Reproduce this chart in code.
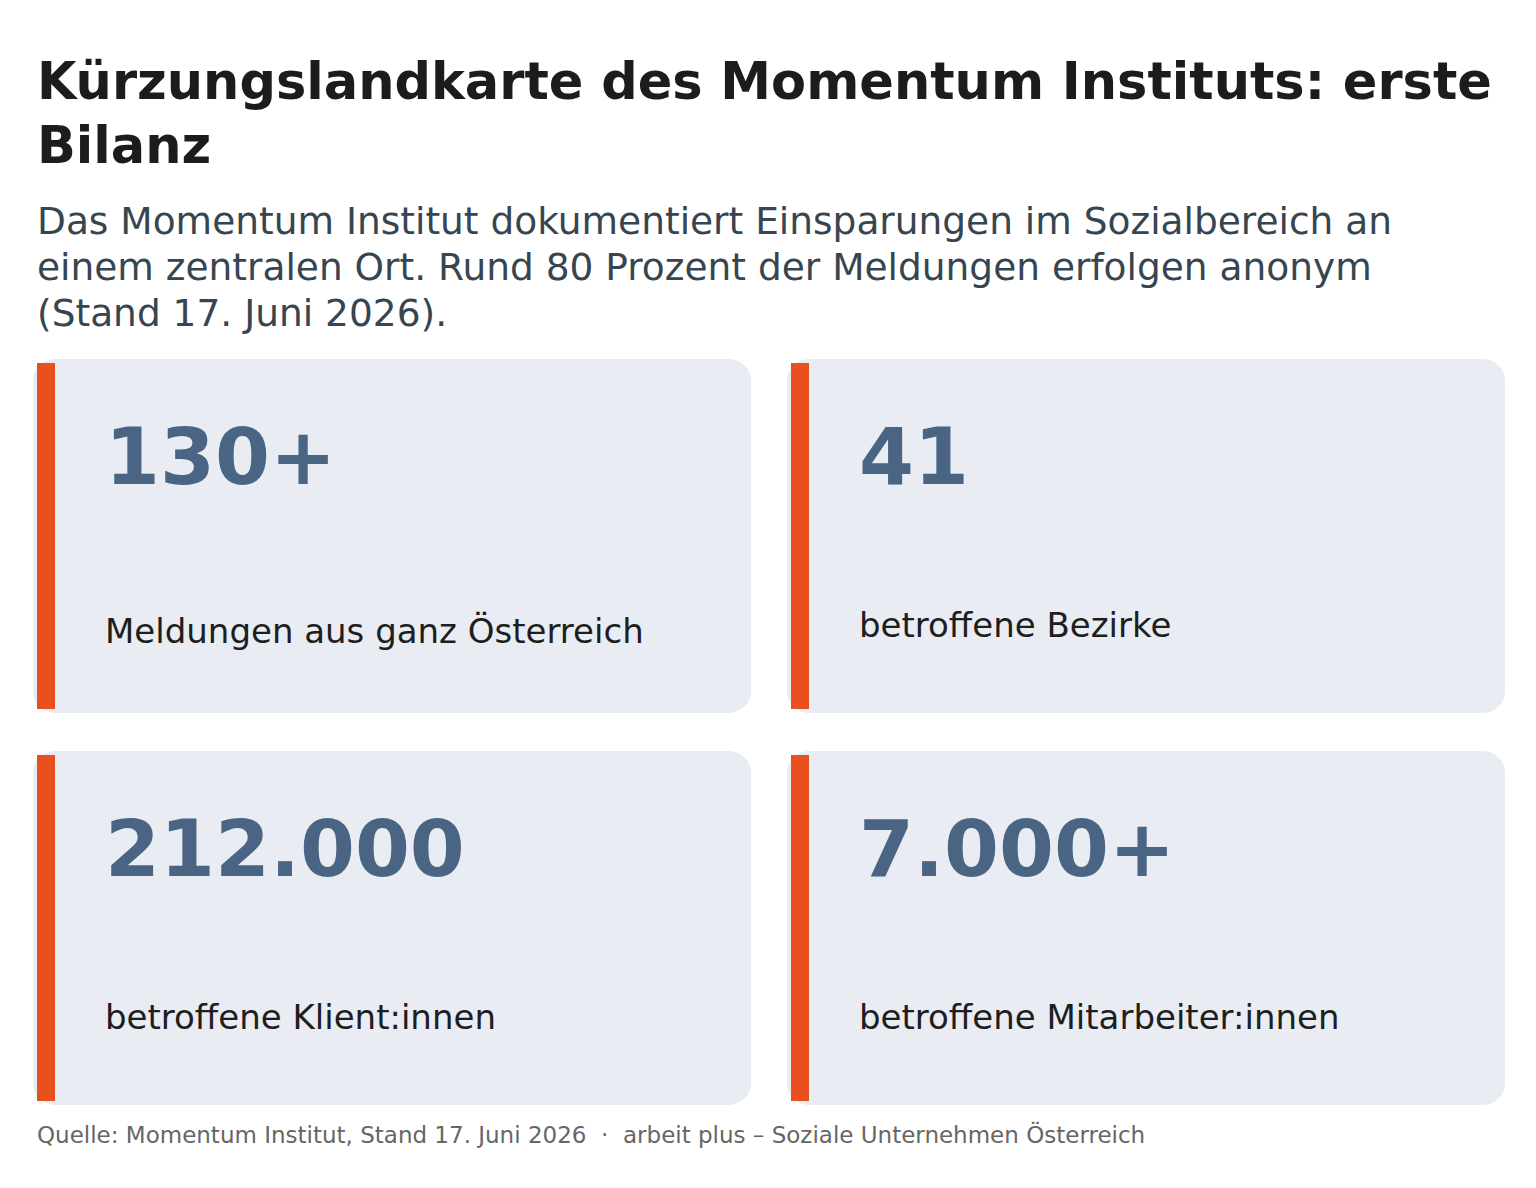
<!DOCTYPE html>
<html lang="de">
<head>
<meta charset="utf-8">
<title>Kürzungslandkarte des Momentum Instituts: erste Bilanz</title>
<script src="https://cdn.jsdelivr.net/npm/chart.js@4/dist/chart.umd.min.js"></script>
<style>
  html, body { margin: 0; padding: 0; background: #fff; }
  body { width: 1536px; height: 1188px; position: relative; overflow: hidden;
         font-family: "DejaVu Sans", sans-serif; }
  .title { position: absolute; left: 37px; top: 49.5px; font-size: 51px; font-weight: bold;
           line-height: 64px; color: #1c1c1c; white-space: nowrap; }
  .subtitle { position: absolute; left: 37px; top: 198px; font-size: 37.5px; line-height: 46px;
              color: #36454f; white-space: nowrap; }
  .card { position: absolute; width: 718px; height: 354px; background: #e9ecf2;
          border-radius: 22px; }
  .accent { position: absolute; left: 4px; top: 4px; width: 18px; bottom: 4px; background: #e8501e; }
  .value { position: absolute; left: 72px; font-size: 79px; font-weight: bold;
           line-height: 1; color: #4a6583; white-space: nowrap; }
  .label { position: absolute; left: 72px; font-size: 34px; line-height: 1;
           color: #1e1e1e; white-space: nowrap; }
  .source { position: absolute; left: 37px; top: 1123.5px; font-size: 23px; line-height: 1;
            color: #666; white-space: nowrap; }
</style>
</head>
<body>
<div class="title">Kürzungslandkarte des Momentum Instituts: erste<br>Bilanz</div>
<div class="subtitle">Das Momentum Institut dokumentiert Einsparungen im Sozialbereich an<br>einem zentralen Ort. Rund 80 Prozent der Meldungen erfolgen anonym<br>(Stand 17. Juni 2026).</div>
<div id="cards"></div>
<div class="source">Quelle: Momentum Institut, Stand 17. Juni 2026 &nbsp;·&nbsp; arbeit plus – Soziale Unternehmen Österreich</div>
<script>
const kpiValues = ['130+', '41', '212.000', '7.000+'];
const kpiLabels = ['Meldungen aus ganz Österreich', 'betroffene Bezirke', 'betroffene Klient:innen', 'betroffene Mitarbeiter:innen'];

// labels are aligned on the top of their ink, like the original
const meas = document.createElement('canvas').getContext('2d');
meas.font = '34px "DejaVu Sans"';

const wrap = document.getElementById('cards');
kpiValues.forEach((v, i) => {
  const col = i % 2, row = Math.floor(i / 2);
  const card = document.createElement('div');
  card.className = 'card';
  card.style.left = (33 + col * 754) + 'px';
  card.style.top = (359 + row * 392) + 'px';
  card.innerHTML = '<div class="accent"></div><div class="value"></div><div class="label"></div>';
  const val = card.querySelector('.value');
  val.textContent = v;
  val.style.top = (126 - 0.846 * 79) + 'px';
  const lab = card.querySelector('.label');
  lab.textContent = kpiLabels[i];
  const asc = meas.measureText(kpiLabels[i]).actualBoundingBoxAscent || 26;
  lab.style.top = (252 + asc - 0.846 * 34) + 'px';
  wrap.appendChild(card);
});
</script>
</body>
</html>
